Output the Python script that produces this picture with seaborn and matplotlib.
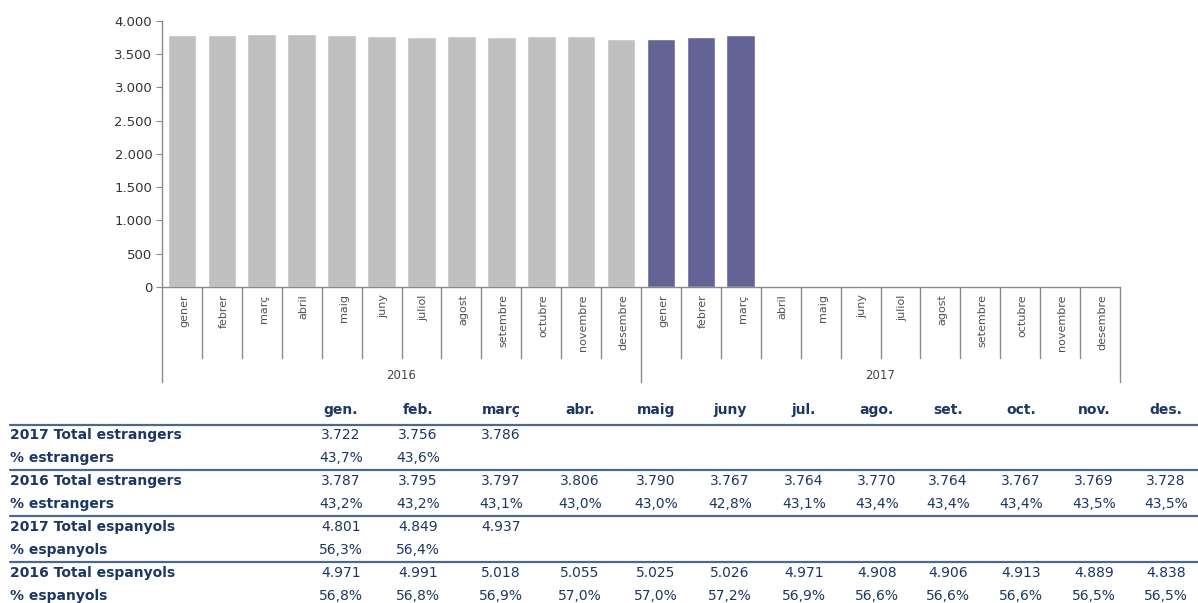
import numpy as np
import pandas as pd
import matplotlib
matplotlib.use('Agg')
import matplotlib.pyplot as plt
import seaborn as sns

# --- data ---
months = ['gener', 'febrer', 'març', 'abril', 'maig', 'juny', 'juliol', 'agost',
          'setembre', 'octubre', 'novembre', 'desembre']
years = ['2016', '2017']
est_2016 = [3787, 3795, 3797, 3806, 3790, 3767, 3764, 3770, 3764, 3767, 3769, 3728]
est_2017 = [3722, 3756, 3786]

col_labels = ['gen.', 'feb.', 'març', 'abr.', 'maig', 'juny', 'jul.', 'ago.',
              'set.', 'oct.', 'nov.', 'des.']
row_labels = ['2017 Total estrangers', '% estrangers',
              '2016 Total estrangers', '% estrangers',
              '2017 Total espanyols', '% espanyols',
              '2016 Total espanyols', '% espanyols']
tot_est_2017 = ['3.722', '3.756', '3.786']
pct_est_2017 = ['43,7%', '43,6%']
tot_est_2016 = ['3.787', '3.795', '3.797', '3.806', '3.790', '3.767', '3.764', '3.770',
                '3.764', '3.767', '3.769', '3.728']
pct_est_2016 = ['43,2%', '43,2%', '43,1%', '43,0%', '43,0%', '42,8%', '43,1%', '43,4%',
                '43,4%', '43,4%', '43,5%', '43,5%']
tot_esp_2017 = ['4.801', '4.849', '4.937']
pct_esp_2017 = ['56,3%', '56,4%']
tot_esp_2016 = ['4.971', '4.991', '5.018', '5.055', '5.025', '5.026', '4.971', '4.908',
                '4.906', '4.913', '4.889', '4.838']
pct_esp_2016 = ['56,8%', '56,8%', '56,9%', '57,0%', '57,0%', '57,2%', '56,9%', '56,6%',
                '56,6%', '56,6%', '56,5%', '56,5%']
table_rows = [tot_est_2017, pct_est_2017, tot_est_2016, pct_est_2016,
              tot_esp_2017, pct_esp_2017, tot_esp_2016, pct_esp_2016]

keys = [y + '-' + m for y in years for m in months]
vals = est_2016 + est_2017 + [np.nan] * (12 - len(est_2017))
df = pd.DataFrame({'key': keys, 'val': vals,
                   'year': [y for y in years for _ in months]})

navy = '#1c3763'
axis_gray = '#8a8a8a'

sns.set_style('white')
plt.rcParams['font.family'] = ['DejaVu Sans']

W, H = 1198, 603
fig = plt.figure(figsize=(W / 100, H / 100), dpi=100)
ax = fig.add_axes([162 / W, 1 - 287 / H, (1120 - 162) / W, (287 - 21) / H])

sns.barplot(data=df, x='key', y='val', hue='year', order=keys,
            palette={'2016': '#c0c0c0', '2017': '#636395'}, dodge=False,
            width=0.72, legend=False, ax=ax, saturation=1)

ax.set_xlim(-0.5, len(keys) - 0.5)
ax.set_ylim(0, 4000)
ax.set_yticks(np.arange(0, 4001, 500))
ax.set_yticklabels([f'{v:,}'.replace(',', '.') for v in range(0, 4001, 500)],
                   fontsize=9.5, color='#333333')
ax.set_xticks([])
ax.set_xlabel('')
ax.set_ylabel('')
ax.tick_params(axis='y', length=4, color=axis_gray, pad=3, left=True)
for s in ['top', 'right']:
    ax.spines[s].set_visible(False)
for s in ['left', 'bottom']:
    ax.spines[s].set_color(axis_gray)
    ax.spines[s].set_linewidth(1)

# category axis: month labels, separators, year labels
trans = ax.get_xaxis_transform()
for i, k in enumerate(keys):
    ax.text(i + 0.05, -0.028, k.split('-')[1], transform=trans, rotation=90,
            ha='center', va='top', fontsize=8, color='#505050', clip_on=False)
for i in range(len(keys) + 1):
    edge = i % 12 == 0
    ax.plot([i - 0.5, i - 0.5], [0, -0.357 if edge else -0.267], transform=trans,
            color=axis_gray, lw=1, clip_on=False)
for j, y in enumerate(years):
    ax.text(j * 12 + 5.5, -0.333, y, transform=trans, ha='center', va='center',
            fontsize=8.5, color='#444444', clip_on=False)

# --- table ---
col_x = [341, 418, 501, 580, 656, 730, 804, 877, 948, 1021, 1094, 1166]
header_y = 410
row_y = [435, 458, 481, 504, 527, 550, 573, 596]
line_y = [425, 470, 516, 562]

for x, lab in zip(col_x, col_labels):
    fig.text(x / W, 1 - header_y / H, lab, ha='center', va='center',
             fontsize=10, fontweight='bold', color=navy)
for ly in line_y:
    fig.add_artist(plt.Line2D([10 / W, 1198 / W], [1 - ly / H, 1 - ly / H],
                              color='#4a6890', lw=1.6))
for ry, lab, row in zip(row_y, row_labels, table_rows):
    fig.text(10 / W, 1 - ry / H, lab, ha='left', va='center',
             fontsize=10, fontweight='bold', color=navy)
    for x, v in zip(col_x, row):
        fig.text(x / W, 1 - ry / H, v, ha='center', va='center',
                 fontsize=10, color=navy)

fig.savefig('out.png', dpi=100)
